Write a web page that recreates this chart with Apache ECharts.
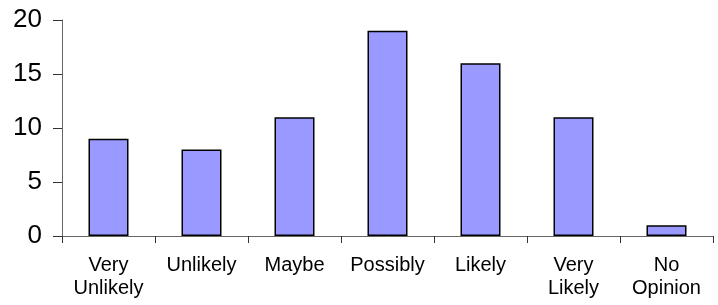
<!DOCTYPE html>
<html>
<head>
<meta charset="utf-8">
<script src="https://cdn.jsdelivr.net/npm/echarts@6/dist/echarts.min.js"></script>
<style>
  html, body { margin: 0; padding: 0; background: #fff; }
  #chart { width: 718px; height: 305px; }
</style>
</head>
<body>
<div id="chart"></div>
<script>
const categories = ["Very\nUnlikely", "Unlikely", "Maybe", "Possibly", "Likely", "Very\nLikely", "No\nOpinion"];
const counts = [9, 8, 11, 19, 16, 11, 1];

const myChart = echarts.init(document.getElementById("chart"), null, { renderer: "canvas" });

const option = {
  animation: false,
  grid: { left: 62, right: 5, top: 20, bottom: 69, containLabel: false },
  xAxis: {
    type: "category",
    data: categories,
    axisLine: { lineStyle: { color: "#666", width: 1 } },
    axisTick: { show: true, length: 7, lineStyle: { color: "#333" } },
    axisLabel: {
      color: "#000",
      fontFamily: "Liberation Sans, Arial, sans-serif",
      fontSize: 20,
      lineHeight: 23,
      margin: 18,
      interval: 0,
    },
  },
  yAxis: {
    type: "value",
    min: 0,
    max: 20,
    interval: 5,
    splitLine: { show: false },
    axisLine: { show: true, lineStyle: { color: "#666", width: 1 } },
    axisTick: { show: true, length: 9, lineStyle: { color: "#333" } },
    axisLabel: {
      color: "#000",
      fontFamily: "Liberation Sans, Arial, sans-serif",
      fontSize: 26,
      margin: 20,
    },
  },
  series: [
    {
      type: "bar",
      data: counts,
      barWidth: 40,
      itemStyle: { color: "#9999ff", borderColor: "#000", borderWidth: 1.5 },
    },
  ],
};

myChart.setOption(option);
</script>
</body>
</html>
